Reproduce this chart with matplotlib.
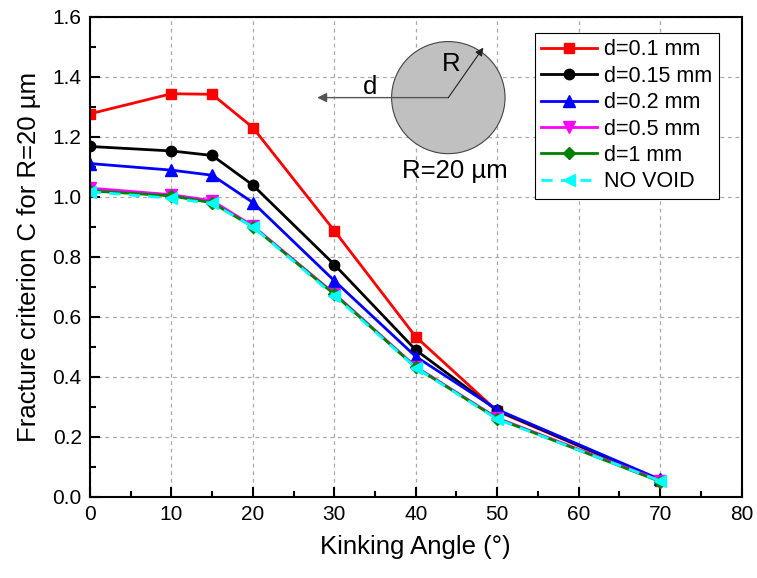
import matplotlib
matplotlib.use("Agg")
import matplotlib.pyplot as plt
from matplotlib.patches import Ellipse
from matplotlib.ticker import MultipleLocator, FormatStrFormatter

plt.rcParams['font.family'] = ['Liberation Sans', 'DejaVu Sans']

angles = [0, 10, 15, 20, 30, 40, 50, 70]
d_01 = [1.277, 1.344, 1.342, 1.231, 0.887, 0.533, 0.285, 0.053]
d_015 = [1.168, 1.153, 1.138, 1.039, 0.774, 0.489, 0.287, 0.054]
d_02 = [1.111, 1.089, 1.072, 0.981, 0.720, 0.467, 0.290, 0.057]
d_05 = [1.029, 1.007, 0.987, 0.903, 0.677, 0.433, 0.262, 0.053]
d_1 = [1.020, 1.003, 0.980, 0.900, 0.675, 0.431, 0.260, 0.050]
no_void = [1.017, 0.995, 0.978, 0.900, 0.670, 0.430, 0.258, 0.052]

series = [
    ("d=0.1 mm", d_01, "red", "s", "-"),
    ("d=0.15 mm", d_015, "black", "o", "-"),
    ("d=0.2 mm", d_02, "blue", "^", "-"),
    ("d=0.5 mm", d_05, "magenta", "v", "-"),
    ("d=1 mm", d_1, "green", "D", "-"),
    ("NO VOID", no_void, "cyan", "<", (0, (4, 3))),
]

fig = plt.figure(figsize=(7.57, 5.78), dpi=100)
ax = fig.add_axes([90/757, 1-496.5/578, (741.5-90)/757, (496.5-17)/578])

for label, vals, col, mk, ls in series:
    ms = {"s": 7.5, "o": 7.5, "D": 6.5}.get(mk, 9)
    ax.plot(angles, vals, color=col, marker=mk, linestyle=ls, lw=2.0,
            markersize=ms, label=label)

ax.set_xlim(0, 80)
ax.set_ylim(0, 1.6)
ax.xaxis.set_major_locator(MultipleLocator(10))
ax.xaxis.set_minor_locator(MultipleLocator(5))
ax.yaxis.set_major_locator(MultipleLocator(0.2))
ax.yaxis.set_minor_locator(MultipleLocator(0.1))
ax.yaxis.set_major_formatter(FormatStrFormatter('%.1f'))
ax.tick_params(which='major', direction='in', length=7, width=1.5, labelsize=15,
               top=False, right=False, pad=6)
ax.tick_params(which='minor', direction='in', length=4, width=1.5,
               top=False, right=False)
for s in ax.spines.values():
    s.set_linewidth(1.5)
ax.grid(True, which='major', color='#aaaaaa', linestyle=(0, (3, 3)), lw=0.9)
ax.set_axisbelow(True)

ax.set_xlabel("Kinking Angle (°)", fontsize=18.5, labelpad=8)
ax.set_ylabel("Fracture criterion C for R=20 µm", fontsize=18.5, labelpad=8)

# Void sketch
ax.add_patch(Ellipse((44.0, 1.331), 13.93, 0.374, facecolor='#c0c0c0',
                     edgecolor='#444444', lw=0.8, zorder=3))
ax.annotate("", xy=(27.9, 1.331), xytext=(44.0, 1.331),
            arrowprops=dict(arrowstyle='-|>', color='#555555', lw=1.0,
                            mutation_scale=14, shrinkA=0, shrinkB=0), zorder=4)
ax.annotate("", xy=(48.3, 1.498), xytext=(44.0, 1.331),
            arrowprops=dict(arrowstyle='-|>', color='#222222', lw=0.8,
                            mutation_scale=12, shrinkA=0, shrinkB=0), zorder=4)
ax.text(34.4, 1.365, "d", fontsize=18.5, ha='center', va='center', zorder=5)
ax.text(44.4, 1.443, "R", fontsize=18.5, ha='center', va='center', zorder=5)
ax.text(44.8, 1.087, "R=20 µm", fontsize=18.5, ha='center', va='center', zorder=5)

leg = ax.legend(loc='upper right', bbox_to_anchor=(718.5/757, 1-33/578),
                bbox_transform=fig.transFigure, fontsize=15.5,
                frameon=True, fancybox=False, edgecolor='black', framealpha=1,
                handlelength=2.6, handletextpad=0.3, labelspacing=0.25,
                borderpad=0.3, borderaxespad=0)
leg.get_frame().set_linewidth(0.8)

fig.savefig("out.png", dpi=100)
